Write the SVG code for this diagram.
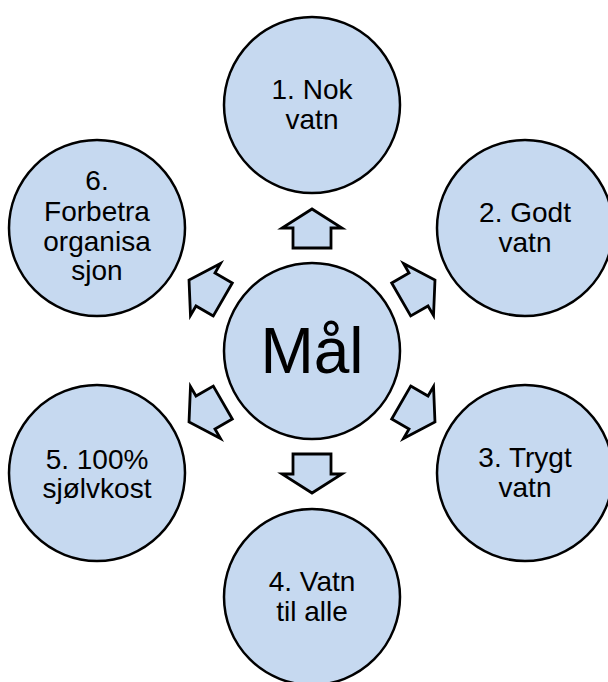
<svg xmlns="http://www.w3.org/2000/svg" xmlns:xlink="http://www.w3.org/1999/xlink" width="608" height="682" viewBox="0 0 608 682">
<style>
.c{fill:#c6d9f0;stroke:#000;stroke-width:2.5}
.a{fill:#c6d9f0;stroke:#000;stroke-width:2.8;stroke-linejoin:miter}
.t{font-family:"Liberation Sans",Arial,sans-serif;font-size:28px;fill:#000;text-anchor:middle}
.m{font-family:"Liberation Sans",Arial,sans-serif;font-size:64px;fill:#000;text-anchor:middle}
</style>
<defs>
<polygon id="arr" points="103,-19 123,-19 123,-30 142,0 123,30 123,19 103,19"/>
</defs>
<rect width="608" height="682" fill="#fff"/>
<g id="connectors" class="a">
<use xlink:href="#arr" transform="translate(312 351) rotate(-90)"/>
<use xlink:href="#arr" transform="translate(312 351) rotate(-30)"/>
<use xlink:href="#arr" transform="translate(312 351) rotate(30)"/>
<use xlink:href="#arr" transform="translate(312 351) rotate(90)"/>
<use xlink:href="#arr" transform="translate(312 351) rotate(150)"/>
<use xlink:href="#arr" transform="translate(312 351) rotate(210)"/>
</g>
<g id="center">
<circle class="c" cx="312" cy="351" r="88"/>
<text class="m" x="312" y="373">Mål</text>
</g>
<g id="n1">
<circle class="c" cx="312" cy="105" r="88"/>
<text class="t" x="312" y="99">1. Nok</text>
<text class="t" x="312" y="129">vatn</text>
</g>
<g id="n2">
<circle class="c" cx="525" cy="228" r="88"/>
<text class="t" x="525" y="222">2. Godt</text>
<text class="t" x="525" y="252">vatn</text>
</g>
<g id="n3">
<circle class="c" cx="525" cy="473" r="88"/>
<text class="t" x="525" y="467">3. Trygt</text>
<text class="t" x="525" y="497">vatn</text>
</g>
<g id="n4">
<circle class="c" cx="312" cy="597" r="88"/>
<text class="t" x="312" y="591">4. Vatn</text>
<text class="t" x="312" y="621">til alle</text>
</g>
<g id="n5">
<circle class="c" cx="97" cy="473" r="88"/>
<text class="t" x="97" y="469">5. 100%</text>
<text class="t" x="97" y="498">sjølvkost</text>
</g>
<g id="n6">
<circle class="c" cx="97" cy="228" r="88"/>
<text class="t" x="97" y="190">6.</text>
<text class="t" x="97" y="221">Forbetra</text>
<text class="t" x="97" y="251">organisa</text>
<text class="t" x="97" y="280">sjon</text>
</g>
</svg>
